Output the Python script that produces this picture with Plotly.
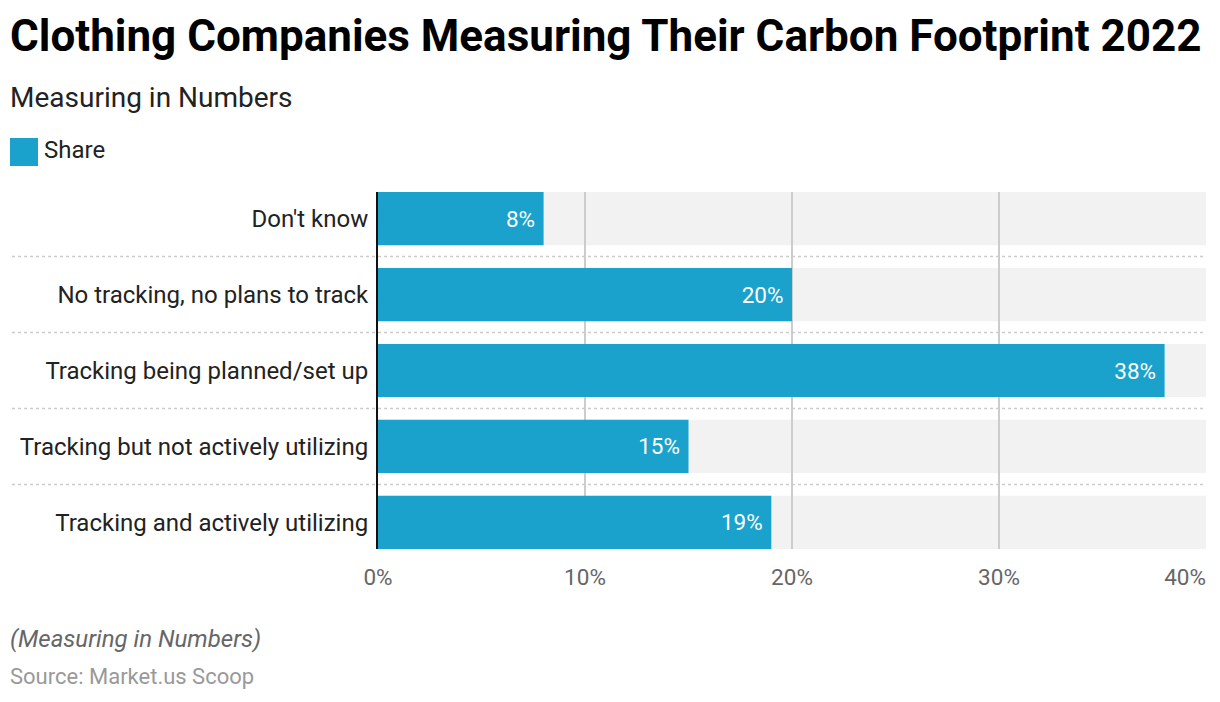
import plotly.graph_objects as go

categories = [
    "Don't know",
    "No tracking, no plans to track",
    "Tracking being planned/set up",
    "Tracking but not actively utilizing",
    "Tracking and actively utilizing",
]
shares = [8, 20, 38, 15, 19]
x_ticks = [0, 10, 20, 30]
x_tick_labels = ["0%", "10%", "20%", "30%"]
x_end_tick = [40]
x_end_label = ["40%"]
series_name = "Share"
title_text = "Clothing Companies Measuring Their Carbon Footprint 2022"
subtitle_text = "Measuring in Numbers"
note_text = "(Measuring in Numbers)"
source_text = "Source: Market.us Scoop"

W, H = 1220, 702
L, R, T, B = 378, 14, 192, 153
PW, PH = W - L - R, H - T - B
BAR_COLOR = "#1aa1cc"
FONT = "Roboto"
XMAX = 40
BW = 0.7


def px(xp):
    return (xp - L) / PW


def py(yp):
    return (H - B - yp) / PH


fig = go.Figure()
fig.add_trace(go.Bar(
    y=categories, x=shares, orientation="h", name=series_name,
    marker=dict(color=BAR_COLOR, line=dict(width=0)), width=BW,
    text=[f"{v}%\u00a0" for v in shares], textposition="inside",
    insidetextanchor="end", textangle=0,
    insidetextfont=dict(color="white", size=22.5, family=FONT),
    showlegend=False, cliponaxis=False,
))
# empty helper trace so the overlay axis carrying the last tick label is drawn
fig.add_trace(go.Scatter(x=[], y=[], xaxis="x2", yaxis="y", showlegend=False,
                         hoverinfo="skip"))

shapes = []
for i in range(len(categories)):
    shapes.append(dict(type="rect", xref="x", yref="y", x0=0, x1=XMAX,
                       y0=i - BW / 2, y1=i + BW / 2, fillcolor="#f2f2f2",
                       line=dict(width=0), layer="below"))
for i in range(len(categories) - 1):
    shapes.append(dict(type="line", xref="paper", yref="y", x0=px(12), x1=1,
                       y0=i + 0.5, y1=i + 0.5,
                       line=dict(color="#cccccc", width=1.5, dash="dot"), layer="below"))
# legend swatch
shapes.append(dict(type="rect", xref="paper", yref="paper", x0=px(10), x1=px(38),
                   y0=py(166), y1=py(138), fillcolor=BAR_COLOR, line=dict(width=0)))

annotations = [
    dict(text=f"<b>{title_text}</b>", x=px(8), y=py(36), xref="paper", yref="paper",
         xanchor="left", yanchor="middle", showarrow=False,
         font=dict(size=44, family=FONT, color="#000000")),
    dict(text=subtitle_text, x=px(8), y=py(97), xref="paper", yref="paper",
         xanchor="left", yanchor="middle", showarrow=False,
         font=dict(size=28, family=FONT, color="#222222")),
    dict(text=series_name, x=px(42), y=py(150), xref="paper", yref="paper",
         xanchor="left", yanchor="middle", showarrow=False,
         font=dict(size=24, family=FONT, color="#222222")),
    dict(text=f"<i>{note_text}</i>", x=px(8), y=py(639), xref="paper", yref="paper",
         xanchor="left", yanchor="middle", showarrow=False,
         font=dict(size=24, family=FONT, color="#666666")),
    dict(text=source_text, x=px(8), y=py(676), xref="paper", yref="paper",
         xanchor="left", yanchor="middle", showarrow=False,
         font=dict(size=22, family=FONT, color="#999999")),
]

xtickfont = dict(size=22.5, color="#666666", family=FONT)

fig.update_layout(
    width=W, height=H,
    margin=dict(l=L, r=R, t=T, b=B, autoexpand=False),
    paper_bgcolor="white", plot_bgcolor="white",
    font=dict(family=FONT),
    shapes=shapes, annotations=annotations,
    bargap=0.3,
    xaxis=dict(range=[0, XMAX], tickvals=x_ticks, ticktext=x_tick_labels,
               showgrid=True, gridcolor="#cccccc", gridwidth=1.5,
               zeroline=False, showline=False, ticks="",
               tickfont=xtickfont, ticklabelstandoff=12, fixedrange=True),
    xaxis2=dict(range=[0, XMAX], overlaying="x", anchor="y", side="bottom",
                tickvals=x_end_tick, ticktext=x_end_label,
                ticklabelposition="outside left",
                showgrid=True, gridcolor="#cccccc", gridwidth=1.5,
                zeroline=False, showline=False, ticks="",
                tickfont=xtickfont, ticklabelstandoff=12, fixedrange=True),
    yaxis=dict(type="category", categoryorder="array", categoryarray=categories,
               range=[len(categories) - 1 + BW / 2, -BW / 2],
               showgrid=False, zeroline=False, showline=True,
               linecolor="#111111", linewidth=2, ticks="",
               tickfont=dict(size=24, color="#222222", family=FONT),
               ticklabelstandoff=3, fixedrange=True),
)

fig.write_html("out.html", config={"displayModeBar": False},
               post_script="document.body.style.margin='0';")
